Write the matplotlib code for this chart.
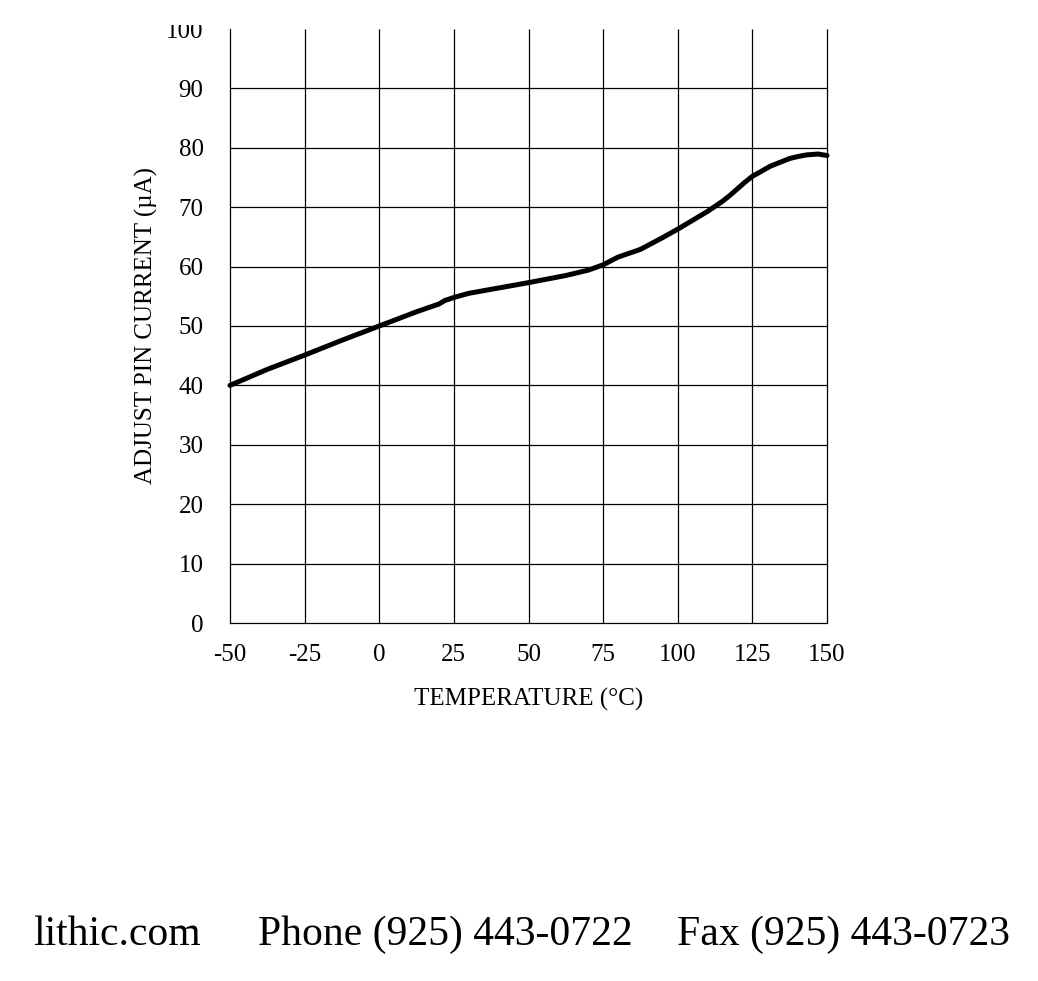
import matplotlib
matplotlib.use("Agg")
import matplotlib.pyplot as plt
import matplotlib.patches as patches

plt.rcParams['font.family'] = ['Liberation Serif', 'DejaVu Serif']

# Adjust pin current vs temperature
temp_c = [-50, -37.5, -25, -12.5, 0, 12.5, 20, 22, 25, 30, 35, 50, 62.5, 70, 75,
          80, 87.5, 95, 100, 105, 110, 115, 117.5, 120, 122.5, 125, 127.5, 131,
          135, 137.5, 140, 143, 147, 150]
current_ua = [40.0, 42.7, 45.1, 47.6, 50.0, 52.4, 53.7, 54.3, 54.8, 55.5, 55.95, 57.3,
              58.5, 59.4, 60.3, 61.6, 62.9, 64.9, 66.3, 67.8, 69.3, 71.0, 72.0,
              73.1, 74.2, 75.2, 75.9, 76.9, 77.7, 78.2, 78.5, 78.8, 78.95, 78.7]

x_ticks = [-50, -25, 0, 25, 50, 75, 100, 125, 150]
y_ticks = [0, 10, 20, 30, 40, 50, 60, 70, 80, 90, 100]

footer_site = "lithic.com"
footer_phone = "Phone (925) 443-0722"
footer_fax = "Fax (925) 443-0723"

W, H = 1038, 981
fig = plt.figure(figsize=(W / 100, H / 100), dpi=100)
ax = fig.add_axes([230 / W, 1 - 623 / H, (827 - 230) / W, (623 - 29) / H])

ax.set_xlim(-50, 150)
ax.set_ylim(0, 100)

# grid drawn by hand: no line along the top edge in the reference
ax.vlines(x_ticks[1:], 0, 100, colors='black', linewidth=0.9, zorder=1, clip_on=False)
ax.hlines(y_ticks[1:-1], -50, 150, colors='black', linewidth=0.9, zorder=1)

ax.plot(temp_c, current_ua, color='black', linewidth=3.6, solid_capstyle='round',
        solid_joinstyle='round', zorder=3, clip_on=False)

for side in ['top', 'right']:
    ax.spines[side].set_visible(False)
for side in ['left', 'bottom']:
    ax.spines[side].set_linewidth(0.9)

ax.set_xticks(x_ticks)
ax.set_xticklabels([str(t) for t in x_ticks])
ax.set_yticks(y_ticks)
ax.set_yticklabels([str(t) for t in y_ticks])
ax.tick_params(axis='x', length=0, pad=15, labelsize=18)
ax.tick_params(axis='y', length=0, pad=19, labelsize=18)

ax.set_xlabel('TEMPERATURE (°C)', fontsize=18, labelpad=16)
ax.set_ylabel('ADJUST PIN CURRENT (µA)', fontsize=18, labelpad=6)

# the top of the page is cut off in the reference, clipping the "100" label
fig.patches.append(patches.Rectangle((0, 1 - 25 / H), 1, 25 / H, transform=fig.transFigure,
                                     facecolor='white', edgecolor='none', zorder=10))

fig.text(33 / W, 1 - 945 / H, footer_site, fontsize=30, ha='left', va='baseline')
fig.text(258 / W, 1 - 945 / H, footer_phone, fontsize=30, ha='left', va='baseline')
fig.text(677 / W, 1 - 945 / H, footer_fax, fontsize=30, ha='left', va='baseline')

fig.savefig('out.png', dpi=100, facecolor='white')
